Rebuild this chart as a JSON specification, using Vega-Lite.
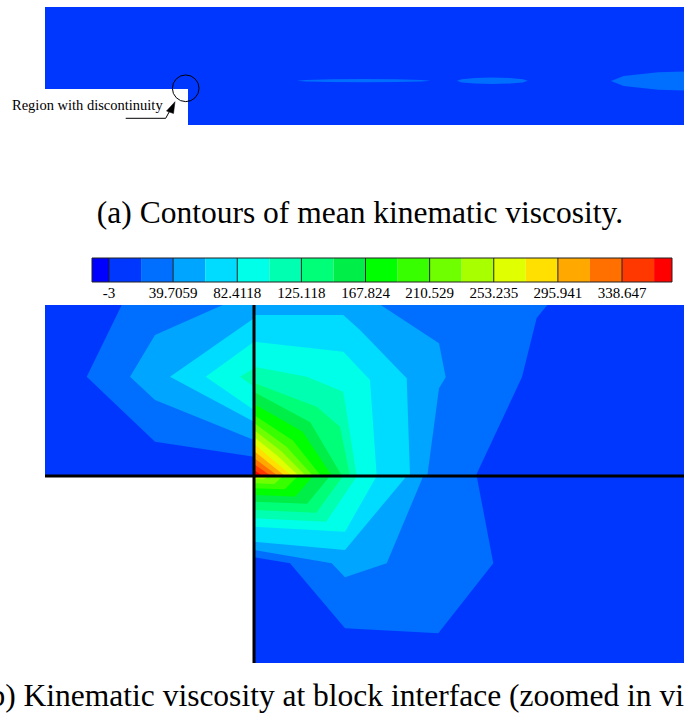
{
  "$schema": "https://vega.github.io/schema/vega-lite/v6.json",
  "padding": 0,
  "spacing": 0,
  "background": "white",
  "config": {"view": {"stroke": null}, "axis": {"disable": true}, "concat": {"spacing": 0}},
  "datasets": {
    "pa": [
      {"poly":"a0","lvl":1,"i":0,"x":0,"y":36},{"poly":"a0","lvl":1,"i":1,"x":0,"y":118},{"poly":"a0","lvl":1,"i":2,"x":639,"y":118},{"poly":"a0","lvl":1,"i":3,"x":639,"y":0},{"poly":"a0","lvl":1,"i":4,"x":143,"y":0},{"poly":"a0","lvl":1,"i":5,"x":143,"y":36},
      {"poly":"a1","lvl":2,"i":0,"x":385.5,"y":44.3},{"poly":"a1","lvl":2,"i":1,"x":376.5,"y":45.1},{"poly":"a1","lvl":2,"i":2,"x":352.1,"y":45.7},{"poly":"a1","lvl":2,"i":3,"x":318.7,"y":45.9},{"poly":"a1","lvl":2,"i":4,"x":285.3,"y":45.7},{"poly":"a1","lvl":2,"i":5,"x":260.8,"y":45.1},{"poly":"a1","lvl":2,"i":6,"x":251.9,"y":44.3},{"poly":"a1","lvl":2,"i":7,"x":260.8,"y":43.5},{"poly":"a1","lvl":2,"i":8,"x":285.3,"y":42.9},{"poly":"a1","lvl":2,"i":9,"x":318.7,"y":42.7},{"poly":"a1","lvl":2,"i":10,"x":352.1,"y":42.9},{"poly":"a1","lvl":2,"i":11,"x":376.5,"y":43.5},
      {"poly":"a2","lvl":2,"i":0,"x":482.7,"y":44.2},{"poly":"a2","lvl":2,"i":1,"x":478,"y":45.8},{"poly":"a2","lvl":2,"i":2,"x":465,"y":47},{"poly":"a2","lvl":2,"i":3,"x":447.4,"y":47.4},{"poly":"a2","lvl":2,"i":4,"x":429.7,"y":47},{"poly":"a2","lvl":2,"i":5,"x":416.7,"y":45.8},{"poly":"a2","lvl":2,"i":6,"x":412,"y":44.2},{"poly":"a2","lvl":2,"i":7,"x":416.7,"y":42.6},{"poly":"a2","lvl":2,"i":8,"x":429.7,"y":41.4},{"poly":"a2","lvl":2,"i":9,"x":447.4,"y":41},{"poly":"a2","lvl":2,"i":10,"x":465,"y":41.4},{"poly":"a2","lvl":2,"i":11,"x":478,"y":42.6},
      {"poly":"a3","lvl":2,"i":0,"x":754,"y":44},{"poly":"a3","lvl":2,"i":1,"x":741.4,"y":49},{"poly":"a3","lvl":2,"i":2,"x":707,"y":52.7},{"poly":"a3","lvl":2,"i":3,"x":660,"y":54},{"poly":"a3","lvl":2,"i":4,"x":613,"y":52.7},{"poly":"a3","lvl":2,"i":5,"x":578.6,"y":49},{"poly":"a3","lvl":2,"i":6,"x":566,"y":44},{"poly":"a3","lvl":2,"i":7,"x":578.6,"y":39},{"poly":"a3","lvl":2,"i":8,"x":613,"y":35.3},{"poly":"a3","lvl":2,"i":9,"x":660,"y":34},{"poly":"a3","lvl":2,"i":10,"x":707,"y":35.3},{"poly":"a3","lvl":2,"i":11,"x":741.4,"y":39}
    ],
    "ptr": [{"i":0,"x":80.7,"y":6.7},{"i":1,"x":120.7,"y":6.7},{"i":2,"x":125.5,"y":15.5}],
    "head": [{"i":0,"x":130,"y":23.3},{"i":1,"x":121.5,"y":14},{"i":2,"x":128.5,"y":11.5}],
    "pb": [
      {"poly":"b00","lvl":1,"i":0,"x":-209,"y":0},{"poly":"b00","lvl":1,"i":1,"x":430,"y":0},{"poly":"b00","lvl":1,"i":2,"x":430,"y":171},{"poly":"b00","lvl":1,"i":3,"x":-209,"y":171},
      {"poly":"b01","lvl":1,"i":0,"x":0,"y":0},{"poly":"b01","lvl":1,"i":1,"x":430,"y":0},{"poly":"b01","lvl":1,"i":2,"x":430,"y":-187},{"poly":"b01","lvl":1,"i":3,"x":0,"y":-187},
      {"poly":"u2","lvl":2,"i":0,"x":-132.3,"y":171},{"poly":"u2","lvl":2,"i":1,"x":0,"y":171},{"poly":"u2","lvl":2,"i":2,"x":0,"y":19.3},{"poly":"u2","lvl":2,"i":3,"x":-99,"y":34.3},{"poly":"u2","lvl":2,"i":4,"x":-167.3,"y":99.3},
      {"poly":"u3","lvl":3,"i":0,"x":-31.3,"y":171},{"poly":"u3","lvl":3,"i":1,"x":0,"y":171},{"poly":"u3","lvl":3,"i":2,"x":0,"y":36},{"poly":"u3","lvl":3,"i":3,"x":-99,"y":76},{"poly":"u3","lvl":3,"i":4,"x":-124,"y":99.3},{"poly":"u3","lvl":3,"i":5,"x":-99,"y":141},
      {"poly":"u4","lvl":4,"i":0,"x":0,"y":157.7},{"poly":"u4","lvl":4,"i":1,"x":-84,"y":99.3},{"poly":"u4","lvl":4,"i":2,"x":0,"y":54.3},
      {"poly":"u5","lvl":5,"i":0,"x":0,"y":134.3},{"poly":"u5","lvl":5,"i":1,"x":-48.3,"y":99.3},{"poly":"u5","lvl":5,"i":2,"x":0,"y":66},
      {"poly":"u6","lvl":6,"i":0,"x":0,"y":107.7},{"poly":"u6","lvl":6,"i":1,"x":-14,"y":99.3},{"poly":"u6","lvl":6,"i":2,"x":0,"y":89.3},
      {"poly":"r02","lvl":2,"i":0,"x":0,"y":171},{"poly":"r02","lvl":2,"i":1,"x":293.3,"y":171},{"poly":"r02","lvl":2,"i":2,"x":282.7,"y":158},{"poly":"r02","lvl":2,"i":3,"x":268,"y":99},{"poly":"r02","lvl":2,"i":4,"x":221.7,"y":0},{"poly":"r02","lvl":2,"i":5,"x":0,"y":0},
      {"poly":"r03","lvl":3,"i":0,"x":0,"y":171},{"poly":"r03","lvl":3,"i":1,"x":126.7,"y":171},{"poly":"r03","lvl":3,"i":2,"x":185,"y":132.7},{"poly":"r03","lvl":3,"i":3,"x":191.7,"y":98.7},{"poly":"r03","lvl":3,"i":4,"x":185,"y":87.7},{"poly":"r03","lvl":3,"i":5,"x":173.3,"y":0},{"poly":"r03","lvl":3,"i":6,"x":0,"y":0},
      {"poly":"r04","lvl":4,"i":0,"x":0,"y":161},{"poly":"r04","lvl":4,"i":1,"x":89.3,"y":161},{"poly":"r04","lvl":4,"i":2,"x":106,"y":146},{"poly":"r04","lvl":4,"i":3,"x":152.7,"y":97.7},{"poly":"r04","lvl":4,"i":4,"x":156,"y":0},{"poly":"r04","lvl":4,"i":5,"x":0,"y":0},
      {"poly":"r05","lvl":5,"i":0,"x":0,"y":134.3},{"poly":"r05","lvl":5,"i":1,"x":89.3,"y":124.3},{"poly":"r05","lvl":5,"i":2,"x":116,"y":96},{"poly":"r05","lvl":5,"i":3,"x":122.7,"y":0},{"poly":"r05","lvl":5,"i":4,"x":0,"y":0},
      {"poly":"r06","lvl":6,"i":0,"x":0,"y":109.3},{"poly":"r06","lvl":6,"i":1,"x":52.7,"y":99.3},{"poly":"r06","lvl":6,"i":2,"x":89.3,"y":84.3},{"poly":"r06","lvl":6,"i":3,"x":102.7,"y":0},{"poly":"r06","lvl":6,"i":4,"x":0,"y":0},
      {"poly":"r07","lvl":7,"i":0,"x":0,"y":93},{"poly":"r07","lvl":7,"i":1,"x":62.7,"y":69.3},{"poly":"r07","lvl":7,"i":2,"x":86,"y":49.3},{"poly":"r07","lvl":7,"i":3,"x":96,"y":0},{"poly":"r07","lvl":7,"i":4,"x":0,"y":0},
      {"poly":"r08","lvl":8,"i":0,"x":0,"y":84},{"poly":"r08","lvl":8,"i":1,"x":56.3,"y":53.8},{"poly":"r08","lvl":8,"i":2,"x":88,"y":0},{"poly":"r08","lvl":8,"i":3,"x":0,"y":0},
      {"poly":"r09","lvl":9,"i":0,"x":0,"y":72},{"poly":"r09","lvl":9,"i":1,"x":48.4,"y":44.6},{"poly":"r09","lvl":9,"i":2,"x":78,"y":0},{"poly":"r09","lvl":9,"i":3,"x":0,"y":0},
      {"poly":"r10","lvl":10,"i":0,"x":0,"y":61},{"poly":"r10","lvl":10,"i":1,"x":38.9,"y":35.4},{"poly":"r10","lvl":10,"i":2,"x":67,"y":0},{"poly":"r10","lvl":10,"i":3,"x":0,"y":0},
      {"poly":"r11","lvl":11,"i":0,"x":0,"y":53},{"poly":"r11","lvl":11,"i":1,"x":32.5,"y":29.2},{"poly":"r11","lvl":11,"i":2,"x":59,"y":0},{"poly":"r11","lvl":11,"i":3,"x":0,"y":0},
      {"poly":"r12","lvl":12,"i":0,"x":0,"y":46},{"poly":"r12","lvl":12,"i":1,"x":27.6,"y":24.4},{"poly":"r12","lvl":12,"i":2,"x":52,"y":0},{"poly":"r12","lvl":12,"i":3,"x":0,"y":0},
      {"poly":"r13","lvl":13,"i":0,"x":0,"y":39},{"poly":"r13","lvl":13,"i":1,"x":23.4,"y":20.3},{"poly":"r13","lvl":13,"i":2,"x":45,"y":0},{"poly":"r13","lvl":13,"i":3,"x":0,"y":0},
      {"poly":"r14","lvl":14,"i":0,"x":0,"y":32},{"poly":"r14","lvl":14,"i":1,"x":19,"y":16},{"poly":"r14","lvl":14,"i":2,"x":38,"y":0},{"poly":"r14","lvl":14,"i":3,"x":0,"y":0},
      {"poly":"r15","lvl":15,"i":0,"x":0,"y":25},{"poly":"r15","lvl":15,"i":1,"x":15.5,"y":12.5},{"poly":"r15","lvl":15,"i":2,"x":31,"y":0},{"poly":"r15","lvl":15,"i":3,"x":0,"y":0},
      {"poly":"r16","lvl":16,"i":0,"x":0,"y":18},{"poly":"r16","lvl":16,"i":1,"x":12,"y":9},{"poly":"r16","lvl":16,"i":2,"x":24,"y":0},{"poly":"r16","lvl":16,"i":3,"x":0,"y":0},
      {"poly":"r17","lvl":17,"i":0,"x":0,"y":12},{"poly":"r17","lvl":17,"i":1,"x":8.5,"y":6},{"poly":"r17","lvl":17,"i":2,"x":17,"y":0},{"poly":"r17","lvl":17,"i":3,"x":0,"y":0},
      {"poly":"r18","lvl":18,"i":0,"x":0,"y":6},{"poly":"r18","lvl":18,"i":1,"x":4.5,"y":3},{"poly":"r18","lvl":18,"i":2,"x":9,"y":0},{"poly":"r18","lvl":18,"i":3,"x":0,"y":0},
      {"poly":"l02","lvl":2,"i":0,"x":222.7,"y":0},{"poly":"l02","lvl":2,"i":1,"x":239.3,"y":-87.3},{"poly":"l02","lvl":2,"i":2,"x":184.3,"y":-157.3},{"poly":"l02","lvl":2,"i":3,"x":91,"y":-152.3},{"poly":"l02","lvl":2,"i":4,"x":36,"y":-87.3},{"poly":"l02","lvl":2,"i":5,"x":0,"y":-81.3},{"poly":"l02","lvl":2,"i":6,"x":0,"y":0},
      {"poly":"l03","lvl":3,"i":0,"x":169.3,"y":0},{"poly":"l03","lvl":3,"i":1,"x":132.7,"y":-87.3},{"poly":"l03","lvl":3,"i":2,"x":91,"y":-101.3},{"poly":"l03","lvl":3,"i":3,"x":77.7,"y":-87.3},{"poly":"l03","lvl":3,"i":4,"x":0,"y":-74},{"poly":"l03","lvl":3,"i":5,"x":0,"y":0},
      {"poly":"l04","lvl":4,"i":0,"x":152.7,"y":0},{"poly":"l04","lvl":4,"i":1,"x":91,"y":-74},{"poly":"l04","lvl":4,"i":2,"x":0,"y":-65.7},{"poly":"l04","lvl":4,"i":3,"x":0,"y":0},
      {"poly":"l05","lvl":5,"i":0,"x":122.7,"y":0},{"poly":"l05","lvl":5,"i":1,"x":91,"y":-55.7},{"poly":"l05","lvl":5,"i":2,"x":0,"y":-50.7},{"poly":"l05","lvl":5,"i":3,"x":0,"y":0},
      {"poly":"l06","lvl":6,"i":0,"x":103,"y":0},{"poly":"l06","lvl":6,"i":1,"x":72.1,"y":-45.7},{"poly":"l06","lvl":6,"i":2,"x":0,"y":-42.3},{"poly":"l06","lvl":6,"i":3,"x":0,"y":0},
      {"poly":"l07","lvl":7,"i":0,"x":89,"y":0},{"poly":"l07","lvl":7,"i":1,"x":62.3,"y":-36.7},{"poly":"l07","lvl":7,"i":2,"x":0,"y":-34},{"poly":"l07","lvl":7,"i":3,"x":0,"y":0},
      {"poly":"l08","lvl":8,"i":0,"x":76,"y":0},{"poly":"l08","lvl":8,"i":1,"x":53.2,"y":-27.8},{"poly":"l08","lvl":8,"i":2,"x":0,"y":-25.7},{"poly":"l08","lvl":8,"i":3,"x":0,"y":0},
      {"poly":"l09","lvl":9,"i":0,"x":59,"y":0},{"poly":"l09","lvl":9,"i":1,"x":41.3,"y":-20.5},{"poly":"l09","lvl":9,"i":2,"x":0,"y":-19},{"poly":"l09","lvl":9,"i":3,"x":0,"y":0},
      {"poly":"l10","lvl":10,"i":0,"x":44,"y":0},{"poly":"l10","lvl":10,"i":1,"x":30.8,"y":-13.3},{"poly":"l10","lvl":10,"i":2,"x":0,"y":-12.3},{"poly":"l10","lvl":10,"i":3,"x":0,"y":0},
      {"poly":"l11","lvl":11,"i":0,"x":29,"y":0},{"poly":"l11","lvl":11,"i":1,"x":20.3,"y":-7.9},{"poly":"l11","lvl":11,"i":2,"x":0,"y":-7.3},{"poly":"l11","lvl":11,"i":3,"x":0,"y":0},
      {"poly":"l12","lvl":12,"i":0,"x":14,"y":0},{"poly":"l12","lvl":12,"i":1,"x":9.8,"y":-3.2},{"poly":"l12","lvl":12,"i":2,"x":0,"y":-3},{"poly":"l12","lvl":12,"i":3,"x":0,"y":0}
    ],
    "pbl": [{"x":0,"y":-187,"x2":0,"y2":171},{"x":-209,"y":0,"x2":430,"y2":0}],
    "cb": [
      {"lvl":0,"lo":-14.32,"hi":-3},{"lvl":1,"lo":-3,"hi":18.353},{"lvl":2,"lo":18.353,"hi":39.706},{"lvl":3,"lo":39.706,"hi":61.059},{"lvl":4,"lo":61.059,"hi":82.412},{"lvl":5,"lo":82.412,"hi":103.765},{"lvl":6,"lo":103.765,"hi":125.118},{"lvl":7,"lo":125.118,"hi":146.471},{"lvl":8,"lo":146.471,"hi":167.824},{"lvl":9,"lo":167.824,"hi":189.176},{"lvl":10,"lo":189.176,"hi":210.529},{"lvl":11,"lo":210.529,"hi":231.882},{"lvl":12,"lo":231.882,"hi":253.235},{"lvl":13,"lo":253.235,"hi":274.588},{"lvl":14,"lo":274.588,"hi":295.941},{"lvl":15,"lo":295.941,"hi":317.294},{"lvl":16,"lo":317.294,"hi":338.647},{"lvl":17,"lo":338.647,"hi":360},{"lvl":18,"lo":360,"hi":371.94}
    ],
    "cbl": [
      {"v":-3,"label":"-3"},{"v":39.7059,"label":"39.7059"},{"v":82.4118,"label":"82.4118"},{"v":125.118,"label":"125.118"},{"v":167.824,"label":"167.824"},{"v":210.529,"label":"210.529"},{"v":253.235,"label":"253.235"},{"v":295.941,"label":"295.941"},{"v":338.647,"label":"338.647"}
    ]
  },
  "vconcat": [
    {
      "width": 684, "height": 125,
      "layer": [
        {
          "data": {"name": "pa"},
          "mark": {"type": "line", "interpolate": "linear-closed", "strokeWidth": 0, "clip": true},
          "encoding": {
            "x": {"field": "x", "type": "quantitative", "scale": {"domain": [-45, 639], "nice": false, "zero": false}, "axis": null},
            "y": {"field": "y", "type": "quantitative", "scale": {"domain": [0, 125], "nice": false, "zero": false}, "axis": null},
            "detail": {"field": "poly"},
            "order": {"field": "i", "type": "quantitative"},
            "fill": {"field": "lvl", "type": "ordinal", "legend": null, "scale": {"domain": [0,1,2,3,4,5,6,7,8,9,10,11,12,13,14,15,16,17,18], "range": ["#0000FF","#0037FF","#006EFF","#00A5FF","#00DCFF","#00FFE8","#00FFB0","#00FF78","#00EE48","#00FF00","#38FF00","#70FF00","#A8FF00","#E0FF00","#FFE000","#FFA800","#FF7000","#FF3800","#FF0000"]}}
          }
        },
        {
          "data": {"name": "ptr"},
          "mark": {"type": "line", "stroke": "black", "strokeWidth": 1},
          "encoding": {
            "x": {"field": "x", "type": "quantitative", "scale": {"domain": [-45, 639], "nice": false, "zero": false}, "axis": null},
            "y": {"field": "y", "type": "quantitative", "scale": {"domain": [0, 125], "nice": false, "zero": false}, "axis": null},
            "order": {"field": "i", "type": "quantitative"}
          }
        },
        {
          "data": {"name": "head"},
          "mark": {"type": "line", "interpolate": "linear-closed", "fill": "black", "stroke": "black", "strokeWidth": 0.5},
          "encoding": {
            "x": {"field": "x", "type": "quantitative", "scale": {"domain": [-45, 639], "nice": false, "zero": false}, "axis": null},
            "y": {"field": "y", "type": "quantitative", "scale": {"domain": [0, 125], "nice": false, "zero": false}, "axis": null},
            "order": {"field": "i", "type": "quantitative"}
          }
        },
        {
          "data": {"values": [{"note": "Region with discontinuity"}]},
          "mark": {"type": "point", "shape": "circle", "filled": false, "size": 710, "stroke": "black", "strokeWidth": 1, "opacity": 1},
          "encoding": {
            "x": {"datum": 140.7, "type": "quantitative", "scale": {"domain": [-45, 639], "nice": false, "zero": false}, "axis": null},
            "y": {"datum": 36.7, "type": "quantitative", "scale": {"domain": [0, 125], "nice": false, "zero": false}, "axis": null}
          }
        },
        {
          "data": {"values": [{"note": "Region with discontinuity"}]},
          "mark": {"type": "text", "font": "Liberation Serif", "fontSize": 14.5, "align": "left", "baseline": "alphabetic", "color": "black"},
          "encoding": {
            "x": {"datum": -33, "type": "quantitative", "scale": {"domain": [-45, 639], "nice": false, "zero": false}, "axis": null},
            "y": {"datum": 15, "type": "quantitative", "scale": {"domain": [0, 125], "nice": false, "zero": false}, "axis": null},
            "text": {"field": "note"}
          }
        }
      ]
    },
    {
      "width": 684, "height": 125,
      "data": {"values": [{"caption": "(a) Contours of mean kinematic viscosity."}]},
      "mark": {"type": "text", "font": "Liberation Serif", "fontSize": 31.5, "align": "center", "baseline": "alphabetic", "color": "black", "dx": 18, "dy": 35.5},
      "encoding": {"text": {"field": "caption"}}
    },
    {
      "width": 684, "height": 55,
      "layer": [
        {
          "data": {"name": "cb"},
          "mark": {"type": "rect", "strokeWidth": 0},
          "encoding": {
            "x": {"field": "lo", "type": "quantitative", "scale": {"domain": [-75.59, 379.93], "nice": false, "zero": false}, "axis": null},
            "x2": {"field": "hi"},
            "y": {"datum": 23, "type": "quantitative", "scale": {"domain": [0, 55], "nice": false, "zero": false}, "axis": null},
            "y2": {"datum": 47},
            "fill": {"field": "lvl", "type": "ordinal", "legend": null, "scale": {"domain": [0,1,2,3,4,5,6,7,8,9,10,11,12,13,14,15,16,17,18], "range": ["#0000FF","#0037FF","#006EFF","#00A5FF","#00DCFF","#00FFE8","#00FFB0","#00FF78","#00EE48","#00FF00","#38FF00","#70FF00","#A8FF00","#E0FF00","#FFE000","#FFA800","#FF7000","#FF3800","#FF0000"]}}
          }
        },
        {
          "data": {"name": "cbl"},
          "mark": {"type": "rule", "color": "#222222", "strokeWidth": 1},
          "encoding": {
            "x": {"field": "v", "type": "quantitative", "scale": {"domain": [-75.59, 379.93], "nice": false, "zero": false}, "axis": null},
            "y": {"datum": 23, "type": "quantitative", "scale": {"domain": [0, 55], "nice": false, "zero": false}, "axis": null},
            "y2": {"datum": 47}
          }
        },
        {
          "data": {"values": [{"name": "bar"}]},
          "mark": {"type": "rect", "filled": false, "stroke": "#222222", "strokeWidth": 1},
          "encoding": {
            "x": {"datum": -14.32, "type": "quantitative", "scale": {"domain": [-75.59, 379.93], "nice": false, "zero": false}, "axis": null},
            "x2": {"datum": 371.94},
            "y": {"datum": 23, "type": "quantitative", "scale": {"domain": [0, 55], "nice": false, "zero": false}, "axis": null},
            "y2": {"datum": 47}
          }
        },
        {
          "data": {"name": "cbl"},
          "mark": {"type": "text", "font": "Liberation Serif", "fontSize": 15, "align": "center", "baseline": "alphabetic", "color": "black"},
          "encoding": {
            "x": {"field": "v", "type": "quantitative", "scale": {"domain": [-75.59, 379.93], "nice": false, "zero": false}, "axis": null},
            "y": {"datum": 7, "type": "quantitative", "scale": {"domain": [0, 55], "nice": false, "zero": false}, "axis": null},
            "text": {"field": "label"}
          }
        }
      ]
    },
    {
      "width": 684, "height": 358,
      "layer": [
        {
          "data": {"name": "pb"},
          "mark": {"type": "line", "interpolate": "linear-closed", "strokeWidth": 0, "clip": true},
          "encoding": {
            "x": {"field": "x", "type": "quantitative", "scale": {"domain": [-254, 430], "nice": false, "zero": false}, "axis": null},
            "y": {"field": "y", "type": "quantitative", "scale": {"domain": [-187, 171], "nice": false, "zero": false}, "axis": null},
            "detail": {"field": "poly"},
            "order": {"field": "i", "type": "quantitative"},
            "fill": {"field": "lvl", "type": "ordinal", "legend": null, "scale": {"domain": [0,1,2,3,4,5,6,7,8,9,10,11,12,13,14,15,16,17,18], "range": ["#0000FF","#0037FF","#006EFF","#00A5FF","#00DCFF","#00FFE8","#00FFB0","#00FF78","#00EE48","#00FF00","#38FF00","#70FF00","#A8FF00","#E0FF00","#FFE000","#FFA800","#FF7000","#FF3800","#FF0000"]}}
          }
        },
        {
          "data": {"name": "pbl"},
          "mark": {"type": "rule", "color": "black", "strokeWidth": 3, "clip": true},
          "encoding": {
            "x": {"field": "x", "type": "quantitative", "scale": {"domain": [-254, 430], "nice": false, "zero": false}, "axis": null},
            "y": {"field": "y", "type": "quantitative", "scale": {"domain": [-187, 171], "nice": false, "zero": false}, "axis": null},
            "x2": {"field": "x2"},
            "y2": {"field": "y2"}
          }
        }
      ]
    },
    {
      "width": 684, "height": 59,
      "data": {"values": [{"caption": "(b) Kinematic viscosity at block interface (zoomed in view)."}]},
      "mark": {"type": "text", "font": "Liberation Serif", "fontSize": 31.5, "align": "center", "baseline": "alphabetic", "color": "black", "dx": 17, "dy": 13.5, "clip": true},
      "encoding": {"text": {"field": "caption"}}
    }
  ]
}
